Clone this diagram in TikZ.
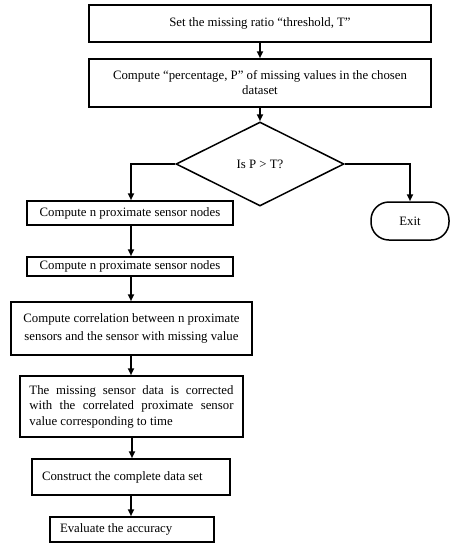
\documentclass[tikz,border=0pt]{standalone}
\usepackage{fontspec}
\setmainfont{Liberation Serif}
\usetikzlibrary{shapes.geometric,arrows.meta}
\begin{document}
\begin{tikzpicture}[x=1pt,y=-1pt,
  box/.style={draw,line width=1.5pt,rectangle,inner sep=0pt,align=center,font=\fontsize{12.8}{15}\selectfont},
  arr/.style={line width=1.8pt,-{Triangle[length=7pt,width=6pt]}},
  txt/.style={font=\fontsize{12.8}{15}\selectfont}]
\useasboundingbox (0,0) rectangle (455,550);
\node[box,minimum width=342pt,minimum height=37pt] (b1) at (260,23.5) {Set the missing ratio “threshold, T”};
\node[box,minimum width=342pt,minimum height=48pt] (b2) at (260,83) {Compute “percentage, P” of missing values in the chosen\\dataset};
\node[draw,line width=1.5pt,diamond,minimum width=168pt,minimum height=84pt,inner sep=0pt,aspect=2,txt] (d) at (260,164) {Is P > T?};
\node[box,minimum width=206pt,minimum height=24pt] (b3) at (130,213) {Compute n proximate sensor nodes};
\node[box,minimum width=206pt,minimum height=19pt] (b4) at (130,266.5) {Compute n proximate sensor nodes};
\node[box,minimum width=241pt,minimum height=53pt,font=\fontsize{12.8}{18}\selectfont] (b5) at (131.5,328.5) {Compute correlation between n proximate\\sensors and the sensor with missing value};
\node[box,minimum width=223pt,minimum height=61pt,align=left,font=\fontsize{12.8}{15.5}\selectfont] (b6) at (131.5,406.5) {\makebox[204pt][s]{The missing sensor data is corrected}\\\makebox[204pt][s]{with the correlated proximate sensor}\\\makebox[204pt][l]{value corresponding to time}};
\node[box,minimum width=198pt,minimum height=36pt] (b7) at (131,477) {\makebox[178pt][l]{Construct the complete data set}};
\node[box,minimum width=164pt,minimum height=25pt] (b8) at (132,529.5) {\makebox[144pt][l]{Evaluate the accuracy}};
\node[draw,line width=1.5pt,rounded corners=18pt,minimum width=78pt,minimum height=38pt,inner sep=0pt,txt] (ex) at (410,221) {Exit};
\draw[arr] (b1.south) -- (b2.north);
\draw[arr] (b2.south) -- (d.north);
\draw[arr] (d.west) -| ([xshift=1pt]b3.north);
\draw[arr] (d.east) -| (ex.north);
\draw[arr] ([xshift=1pt]b3.south) -- ([xshift=1pt]b3.south |- b4.north);
\draw[arr] ([xshift=1pt]b4.south) -- ([xshift=1pt]b4.south |- b5.north);
\draw[arr] ([xshift=-0.5pt]b5.south) -- ([xshift=-0.5pt]b5.south |- b6.north);
\draw[arr] ([xshift=0.5pt]b6.south) -- ([xshift=0.5pt]b6.south |- b7.north);
\draw[arr] (b7.south) -- (b7.south |- b8.north);
\end{tikzpicture}
\end{document}
